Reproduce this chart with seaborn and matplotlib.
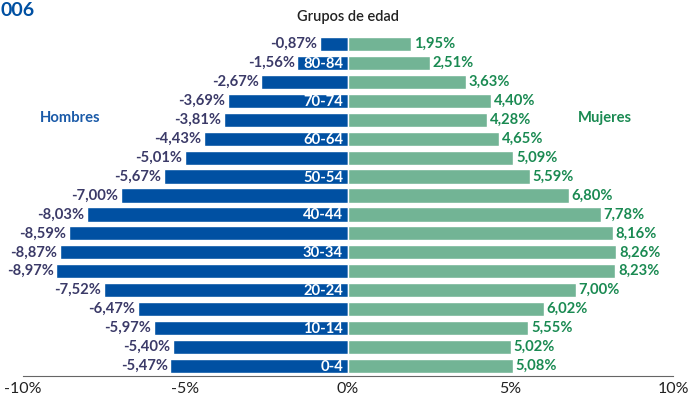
import pandas as pd
import matplotlib.pyplot as plt
import seaborn as sns

# age groups, youngest first
grupos = ['0-4', '5-9', '10-14', '15-19', '20-24', '25-29', '30-34', '35-39',
          '40-44', '45-49', '50-54', '55-59', '60-64', '65-69', '70-74',
          '75-79', '80-84', '85+']
hombres = [-5.47, -5.40, -5.97, -6.47, -7.52, -8.97, -8.87, -8.59,
           -8.03, -7.00, -5.67, -5.01, -4.43, -3.81, -3.69, -2.67, -1.56, -0.87]
mujeres = [5.08, 5.02, 5.55, 6.02, 7.00, 8.23, 8.26, 8.16,
           7.78, 6.80, 5.59, 5.09, 4.65, 4.28, 4.40, 3.63, 2.51, 1.95]
ticks = [-10, -5, 0, 5, 10]
tick_labels = ['-10%', '-5%', '0%', '5%', '10%']

AZUL = '#0050a2'
VERDE = '#72b495'
TXT_H = '#3b3a68'
TXT_M = '#1a8a52'

df = pd.DataFrame({'grupo': grupos, 'hombres': hombres, 'mujeres': mujeres})
orden = grupos[::-1]

sns.set_style('white')
plt.rcParams['font.family'] = ['Lato', 'DejaVu Sans']

fig = plt.figure(figsize=(6.98, 3.97), dpi=100)
ax = fig.add_axes([23 / 698, 21 / 397, 650 / 698, 341.5 / 397])

sns.barplot(data=df, y='grupo', x='hombres', order=orden, color=AZUL,
            width=0.75, saturation=1, ax=ax)
sns.barplot(data=df, y='grupo', x='mujeres', order=orden, color=VERDE,
            width=0.75, saturation=1, ax=ax)

for i, g in enumerate(orden):
    h = df.loc[df.grupo == g, 'hombres'].iloc[0]
    m = df.loc[df.grupo == g, 'mujeres'].iloc[0]
    ax.text(h - 0.08, i, f'{h:.2f}%'.replace('.', ','), ha='right', va='center',
            color=TXT_H, fontsize=10.6, fontweight='bold')
    ax.text(m + 0.08, i, f'{m:.2f}%'.replace('.', ','), ha='left', va='center',
            color=TXT_M, fontsize=10.6, fontweight='bold')
    if grupos.index(g) % 2 == 0 and g != '85+':
        ax.text(-0.15, i + 0.05, g, ha='right', va='center', color='white',
                fontsize=10.6, fontweight='bold')

ax.set_xlim(-10, 10)
ax.set_ylim(17.53, -0.5)
ax.set_xticks(ticks)
ax.set_xticklabels(tick_labels, fontsize=11.5, color='#222222')
ax.set_yticks([])
ax.set_xlabel('')
ax.set_ylabel('')
sns.despine(ax=ax, left=True)
ax.spines['bottom'].set_color('#666666')
ax.tick_params(axis='x', direction='out', length=3, width=0.8, color='#666666', pad=1)

fig.text(348 / 698, 1 - 17 / 397, 'Grupos de edad', ha='center', va='center',
         fontsize=10.5, fontweight='semibold', color='#222222')
fig.text(70 / 698, 1 - 118 / 397, 'Hombres', ha='center', va='center',
         fontsize=10.6, fontweight='bold', color='#1a5aa8')
fig.text(605 / 698, 1 - 118 / 397, 'Mujeres', ha='center', va='center',
         fontsize=10.6, fontweight='bold', color=TXT_M)
# year label, shown clipped in the source as "006"
fig.text(0.5 / 698, 1 - 10 / 397, '006', ha='left', va='center',
         fontsize=14, fontweight='bold', color='#0050a2')

fig.savefig('out.png', dpi=100)
